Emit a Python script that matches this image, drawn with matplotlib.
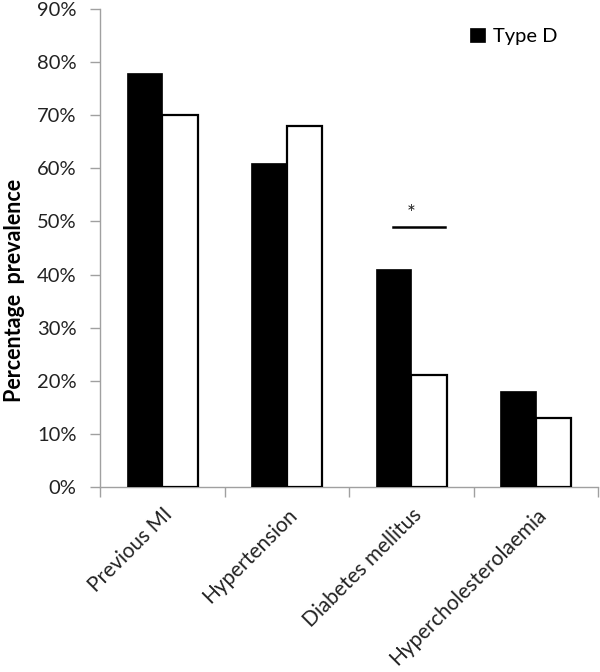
import matplotlib
matplotlib.use("Agg")
import matplotlib.pyplot as plt
import numpy as np
from matplotlib.ticker import FixedLocator

categories = ["Previous MI", "Hypertension", "Diabetes mellitus", "Hypercholesterolaemia"]
type_d = [78, 61, 41, 18]
non_type_d = [70, 68, 21, 13]
yticks = [0, 10, 20, 30, 40, 50, 60, 70, 80, 90]
sig_level = 49

plt.rcParams['font.family'] = ['Lato', 'DejaVu Sans']

fig = plt.figure(figsize=(6, 6.72), dpi=100)
ax = fig.add_axes([0.1667, 0.276, 0.83, 0.7099])

x = np.arange(len(categories))
w = 0.285
ax.bar(x - w / 2, type_d, width=w, color='black', edgecolor='black', linewidth=0.5, label='Type D', zorder=3)
ax.bar(x + w / 2, non_type_d, width=w, color='white', edgecolor='black', linewidth=1.6, zorder=3)

ax.set_xlim(-0.5, len(categories) - 0.5)
ax.set_ylim(0, 90)
ax.set_yticks(yticks)
ax.set_yticklabels([f"{v}%" for v in yticks], fontsize=14.5, color='#222222')
ax.xaxis.set_major_locator(FixedLocator(np.arange(-0.5, len(categories), 1.0)))
ax.xaxis.set_minor_locator(FixedLocator(x))
ax.set_xticklabels([])
ax.set_xticklabels(categories, minor=True, rotation=45, ha='right', rotation_mode='anchor', fontsize=15, color='#222222')
ax.tick_params(axis='x', which='minor', length=0, pad=13)
ax.tick_params(axis='x', which='major', length=7, color='#A0A0A0', width=1)
ax.tick_params(axis='y', length=7, color='#A0A0A0', width=1, pad=10)

for s in ['top', 'right']:
    ax.spines[s].set_visible(False)
for s in ['left', 'bottom']:
    ax.spines[s].set_color('#A0A0A0')
    ax.spines[s].set_linewidth(1)

ax.set_ylabel("Percentage  prevalence", fontsize=15.5, fontweight='bold')
ax.yaxis.set_label_coords(-0.15, 0.41)

# significance marker
ax.plot([2 - 0.145, 2 + 0.27], [sig_level, sig_level], color='black', linewidth=1.8, zorder=4)
ax.text(2 + 0.0, sig_level + 0.5, "*", ha='center', va='bottom', fontsize=15, color='#222222')

leg = ax.legend(loc='upper right', bbox_to_anchor=(0.955, 1.0), frameon=False, fontsize=14.5,
                handlelength=0.75, handleheight=0.75, handletextpad=0.4)

fig.savefig("out.png", dpi=100)
